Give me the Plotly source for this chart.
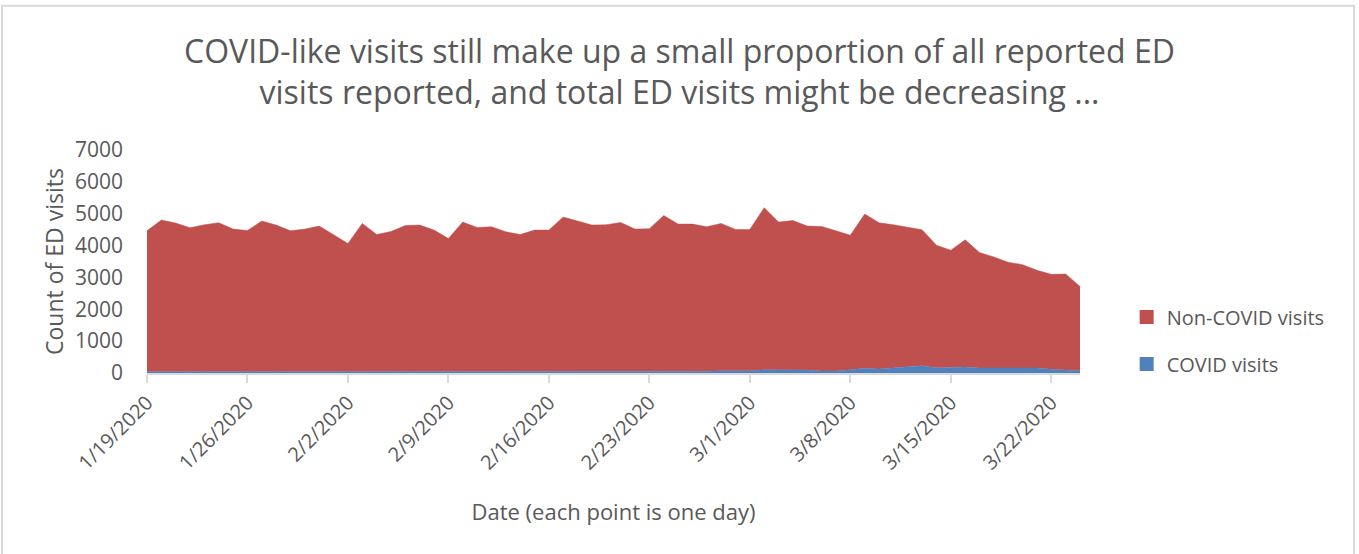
import pandas as pd
import plotly.graph_objects as go

# one point per day, 1/19/2020 .. 3/24/2020
dates = pd.date_range("2020-01-19", "2020-03-24", freq="D")

# total ED visits per day (top of the stack)
total_visits = [
    4464, 4801, 4706, 4558, 4653, 4716, 4517, 4473, 4770, 4643,
    4464, 4517, 4611, 4347, 4064, 4695, 4347, 4442, 4632, 4643,
    4485, 4222, 4737, 4569, 4590, 4432, 4347, 4485, 4485, 4895,
    4770, 4643, 4653, 4726, 4517, 4527, 4947, 4674, 4674, 4590,
    4695, 4506, 4506, 5190, 4737, 4789, 4611, 4600, 4464, 4327,
    4990, 4716, 4653, 4569, 4495, 4013, 3855, 4180, 3779, 3644,
    3476, 3401, 3224, 3098, 3107, 2719,
]

covid_visits = [
    40, 40, 40, 40, 45, 45, 45, 50, 45, 45,
    45, 45, 45, 50, 45, 45, 45, 45, 45, 45,
    45, 45, 45, 45, 45, 45, 45, 50, 50, 50,
    45, 45, 50, 60, 60, 55, 55, 55, 50, 55,
    70, 70, 70, 100, 100, 100, 95, 63, 63, 105,
    147, 126, 158, 179, 231, 168, 179, 189, 158, 158,
    168, 158, 158, 116, 95, 74,
]

non_covid_visits = [t - c for t, c in zip(total_visits, covid_visits)]

tick_dates = dates[::7]
tick_text = [f"{d.month}/{d.day}/{d.year}" for d in tick_dates]

grey = "#595959"
red = "#C0504D"
blue = "#4F81BD"

fig = go.Figure()
fig.add_trace(go.Scatter(
    x=dates, y=covid_visits, name="COVID visits",
    stackgroup="one", mode="lines",
    line=dict(width=0.5, color=blue), fillcolor=blue,
    showlegend=False,
))
fig.add_trace(go.Scatter(
    x=dates, y=non_covid_visits, name="Non-COVID visits",
    stackgroup="one", mode="lines",
    line=dict(width=0.5, color=red), fillcolor=red,
    showlegend=False,
))
# square legend keys like Excel's
for name, color, rank in [("Non-COVID visits", red, 1), ("COVID visits", blue, 2)]:
    fig.add_trace(go.Scatter(
        x=[None], y=[None], mode="markers", name=name,
        marker=dict(symbol="square", size=14, color=color),
        legendgroup=name, legendrank=rank,
    ))

fig.update_layout(
    width=1359, height=554,
    margin=dict(l=147, r=279, t=150, b=181),
    paper_bgcolor="white", plot_bgcolor="white",
    font=dict(family="'Open Sans', Lato, sans-serif", color=grey),
    title=dict(
        text="COVID-like visits still make up a small proportion of all reported ED<br>"
             "visits reported, and total ED visits might be decreasing ...",
        x=0.5, xanchor="center", y=0.887, yanchor="middle",
        xref="container",
        font=dict(size=32, color=grey),
    ),
    xaxis=dict(
        range=[dates[0], dates[-1]],
        tickvals=tick_dates, ticktext=tick_text, tickangle=-45,
        tickfont=dict(size=20, color=grey),
        ticks="outside", ticklen=8, tickcolor="#d9d9d9", tickwidth=2,
        showline=True, linecolor="#d9d9d9", linewidth=2,
        showgrid=False, zeroline=False,
        title=dict(text="Date (each point is one day)", standoff=30,
                   font=dict(size=22, color=grey)),
    ),
    yaxis=dict(
        range=[0, 7000], dtick=1000,
        tickfont=dict(size=21, color=grey),
        showgrid=False, zeroline=False, showline=False,
        ticklabelstandoff=23,
        title=dict(text="Count of ED visits", standoff=4,
                   font=dict(size=23, color=grey)),
    ),
    legend=dict(
        x=1.050, y=0.146, xanchor="left", yanchor="middle",
        traceorder="grouped", tracegroupgap=18,
        font=dict(size=20, color=grey),
        bgcolor="rgba(0,0,0,0)",
    ),
    shapes=[dict(
        type="rect", xref="paper", yref="paper",
        x0=(2 - 147) / 933, x1=(1354 - 147) / 933,
        y0=-(570 - 372.5) / 222.5, y1=1 + (150 - 6) / 222.5,
        line=dict(color="#d9d9d9", width=2), layer="below",
    )],
)

fig.write_html("out.html", config={"displayModeBar": False},
               post_script="document.body.style.margin='0px';")
